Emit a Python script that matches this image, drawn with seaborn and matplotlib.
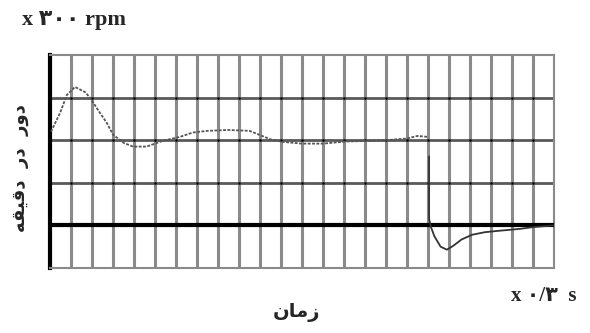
import numpy as np
import pandas as pd
import matplotlib
matplotlib.use("Agg")
import matplotlib.pyplot as plt
import seaborn as sns

# Speed trace read in grid divisions (x: time divisions, y: speed divisions)
time_run = [0.05, 0.48, 0.8, 1.19, 1.67, 1.9, 2.38, 2.7, 3.0, 3.5, 3.95, 4.6, 5.4,
            6.2, 6.8, 7.5, 8.5, 9.5, 10.0, 10.5, 11.1, 12.0, 13.0, 14.1, 15.0,
            16.0, 17.0, 17.5, 17.95]
speed_run = [2.2, 2.64, 3.06, 3.25, 3.13, 3.0, 2.64, 2.41, 2.13, 1.94, 1.85, 1.85, 1.99,
             2.08, 2.18, 2.22, 2.24, 2.22, 2.12, 2.02, 1.96, 1.92, 1.92, 1.97, 1.98,
             2.0, 2.04, 2.1, 2.08]

time_stop = [18.05, 18.05, 18.15, 18.3, 18.6, 18.9, 19.2, 19.6, 20.1, 20.7, 21.3,
             22.4, 23.0, 24.0]
speed_stop = [1.62, 0.15, -0.05, -0.25, -0.5, -0.57, -0.48, -0.33, -0.22, -0.16,
              -0.13, -0.08, -0.04, 0.0]

x_divisions = 24
y_low, y_high = -1, 4

# Persian labels, written in visual (shaped, right-to-left reversed) order
y_unit = "x \u06F3\u06F0\u06F0 rpm"
x_unit = "x \u06F0/\u06F3  s"
y_title = "\uFEEA\uFED8\uFEF4\uFED7\uFEA9  \uFEAD\uFEA9  \uFEAD\uFEED\uFEA9"   # دور در دقیقه
x_title = "\uFEE5\uFE8E\uFEE3\uFEAF"                                            # زمان

sns.set_style("white")
plt.rcParams["font.family"] = ["DejaVu Sans"]

fig = plt.figure(figsize=(5.9, 3.33), dpi=100)
ax = fig.add_axes([50 / 590, 1 - 268 / 333, 504 / 590, 213 / 333])

ax.set_xlim(0, x_divisions)
ax.set_ylim(y_low, y_high)

# Oscilloscope grid
for xv in range(1, x_divisions):
    ax.axvline(xv, color="#8a8a8a", lw=2.2, zorder=1)
for yv in range(y_low + 1, y_high):
    ax.axhline(yv, color="#5a5a5a", lw=2.0, zorder=1)
gx, gy = np.meshgrid(np.arange(1, x_divisions), np.arange(y_low + 1, y_high))
ax.scatter(gx.ravel(), gy.ravel(), s=3, color="black", zorder=2, linewidths=0)
ax.axhline(0, color="black", lw=3.0, zorder=3)

# Speed trace
run_df = pd.DataFrame({"t": time_run, "n": speed_run})
stop_df = pd.DataFrame({"t": time_stop, "n": speed_stop})
sns.lineplot(data=run_df, x="t", y="n", ax=ax, color="#555555", lw=1.3,
             linestyle=(0, (1.6, 0.8)), sort=False, estimator=None, zorder=4)
sns.lineplot(data=stop_df, x="t", y="n", ax=ax, color="#333333", lw=1.3,
             sort=False, estimator=None, zorder=4)

ax.set_xticks([])
ax.set_yticks([])
ax.set_xlabel("")
ax.set_ylabel("")
for side in ["top", "right", "bottom"]:
    ax.spines[side].set_color("#8a8a8a")
    ax.spines[side].set_linewidth(1.5)
ax.spines["left"].set_color("black")
ax.spines["left"].set_linewidth(3.0)

fig.text(22 / 590, 1 - 20 / 333, y_unit, fontsize=16, fontweight="bold",
         ha="left", va="center", family=["Liberation Serif", "DejaVu Sans"])
fig.text(511 / 590, 1 - 296 / 333, x_unit, fontsize=15, fontweight="bold",
         ha="left", va="center", family=["Liberation Serif", "DejaVu Sans"])
fig.text(296 / 590, 1 - 312 / 333, x_title, fontsize=14, fontweight="bold",
         ha="center", va="center")
fig.text(20 / 590, 1 - 168 / 333, y_title, fontsize=13, fontweight="bold",
         ha="center", va="center", rotation=90)

fig.savefig("out.png", dpi=100)
